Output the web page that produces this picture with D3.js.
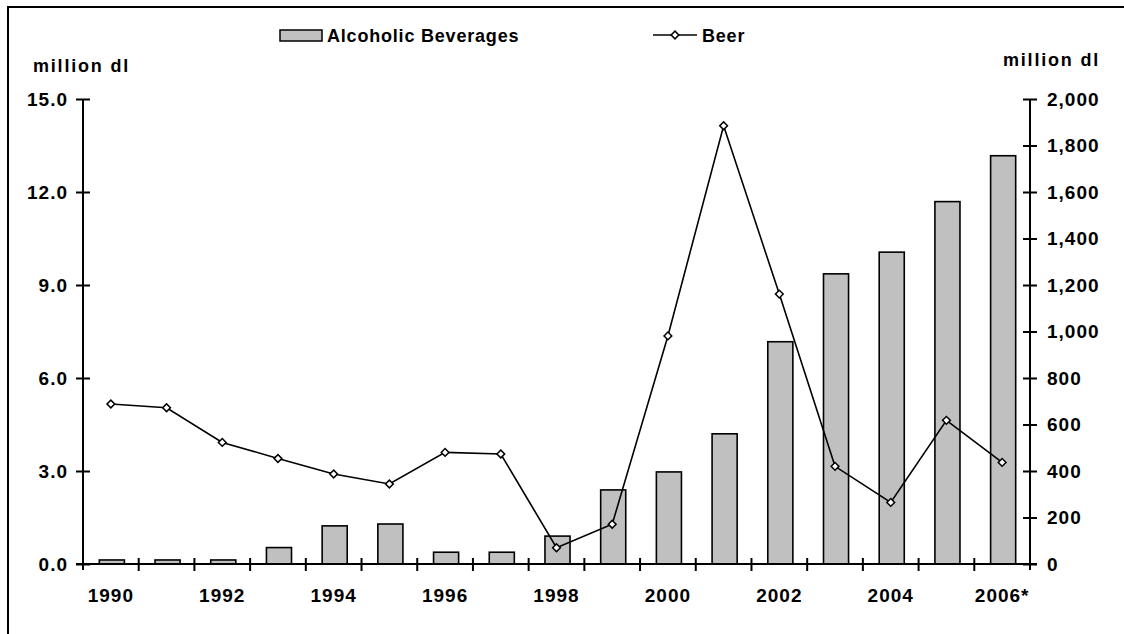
<!DOCTYPE html>
<html>
<head>
<meta charset="utf-8">
<script src="https://cdn.jsdelivr.net/npm/d3@7"></script>
<style>
  body { margin: 0; background: #fff; }
  text { font-family: "Liberation Sans", Arial, sans-serif; font-weight: bold; fill: #000; }
</style>
</head>
<body>
<div id="chart-area"></div>
<script>
// Data
var years = ["1990","1991","1992","1993","1994","1995","1996","1997","1998","1999","2000","2001","2002","2003","2004","2005","2006*"];
var beverages = [0.13,0.13,0.13,0.53,1.23,1.29,0.38,0.38,0.9,2.39,2.97,4.2,7.17,9.36,10.06,11.69,13.17];
var beer = [688,672,523,454,387,344,480,473,70,171,981,1885,1161,420,265,618,437];
var leftTicks = [0,3,6,9,12,15];
var rightTicks = [0,200,400,600,800,1000,1200,1400,1600,1800,2000];
var labelYears = ["1990","1992","1994","1996","1998","2000","2002","2004","2006*"];

var W = 1124, H = 634;
var plotLeft = 83, plotRight = 1030, plotTop = 99, plotBottom = 564;

var svg = d3.select("#chart-area")
    .append("svg")
        .attr("width", W)
        .attr("height", H)

// outer frame (runs off the right and bottom edge)
svg.append("rect")
    .attr("x", 8).attr("y", 7)
    .attr("width", 1130).attr("height", 640)
    .attr("fill", "none").attr("stroke", "#000").attr("stroke-width", 2)

// Scales
var x = d3.scaleBand().domain(years).range([plotLeft, plotRight]).padding(0)
var yL = d3.scaleLinear().domain([0, 15]).range([plotBottom, plotTop])
var yR = d3.scaleLinear().domain([0, 2000]).range([plotBottom, plotTop])

// Bars
var bw = x.bandwidth() * 0.45
svg.selectAll("rect.bar")
    .data(beverages)
    .enter()
    .append("rect")
        .attr("class", "bar")
        .attr("x", (d, i) => x(years[i]) + x.bandwidth() / 2 - bw / 2 + 1)
        .attr("y", d => yL(d))
        .attr("width", bw)
        .attr("height", d => plotBottom - yL(d))
        .attr("fill", "#c0c0c0")
        .attr("stroke", "#000")
        .attr("stroke-width", 1.6)

// Axes
var leftAxis = svg.append("g")
    .attr("transform", "translate(" + plotLeft + ",0)")
    .call(d3.axisLeft(yL).tickValues(leftTicks).tickFormat(d3.format(".1f")).tickSize(7).tickPadding(8))
var rightAxis = svg.append("g")
    .attr("transform", "translate(" + plotRight + ",0)")
    .call(d3.axisRight(yR).tickValues(rightTicks).tickFormat(d3.format(",")).tickSize(7).tickPadding(10))
var xAxis = svg.append("g")
    .attr("transform", "translate(0," + plotBottom + ")")
    .call(d3.axisBottom(x).tickFormat(d => labelYears.includes(d) ? d : "").tickSize(0).tickPadding(0))

;[leftAxis, rightAxis].forEach(g => {
    g.select(".domain").remove()
    g.selectAll(".tick line").attr("x1", -7).attr("x2", 7).attr("stroke-width", 2)
})
svg.append("line").attr("x1", plotLeft).attr("x2", plotLeft).attr("y1", plotTop).attr("y2", plotBottom + 6)
    .attr("stroke", "#000").attr("stroke-width", 2)
svg.append("line").attr("x1", plotRight).attr("x2", plotRight).attr("y1", plotTop).attr("y2", plotBottom + 6)
    .attr("stroke", "#000").attr("stroke-width", 2)

xAxis.select(".domain").remove()
svg.append("line").attr("x1", plotLeft - 7).attr("x2", plotRight + 7).attr("y1", plotBottom).attr("y2", plotBottom)
    .attr("stroke", "#000").attr("stroke-width", 2)
// category separators crossing the axis
svg.selectAll("line.sep")
    .data(years.slice(1))
    .enter()
    .append("line")
        .attr("class", "sep")
        .attr("x1", d => x(d)).attr("x2", d => x(d))
        .attr("y1", plotBottom - 6).attr("y2", plotBottom + 7)
        .attr("stroke", "#000").attr("stroke-width", 2)

svg.selectAll(".tick text")
    .attr("font-size", "19px")
    .attr("letter-spacing", "1px")
    .attr("font-family", "Liberation Sans, Arial, sans-serif")
    .attr("font-weight", "bold")
    .attr("fill", "#000")
xAxis.selectAll(".tick text").attr("dy", "0").attr("y", 38)

// Beer line
var line = d3.line()
    .x((d, i) => x(years[i]) + x.bandwidth() / 2)
    .y(d => yR(d))
svg.append("path")
    .datum(beer)
    .attr("d", line)
    .attr("fill", "none")
    .attr("stroke", "#000")
    .attr("stroke-width", 1.6)

var diamond = d3.symbol(d3.symbolSquare, 30)
svg.selectAll("path.mark")
    .data(beer)
    .enter()
    .append("path")
        .attr("class", "mark")
        .attr("d", diamond)
        .attr("transform", (d, i) => "translate(" + (x(years[i]) + x.bandwidth() / 2) + "," + yR(d) + ") rotate(45)")
        .attr("fill", "#fff")
        .attr("stroke", "#000")
        .attr("stroke-width", 1.5)

// Axis titles
svg.append("text").attr("x", 33).attr("y", 72)
    .attr("font-size", "18px").attr("letter-spacing", "1.8px").text("million dl")
svg.append("text").attr("x", 1003).attr("y", 66)
    .attr("font-size", "18px").attr("letter-spacing", "1.8px").text("million dl")

// Legend
svg.append("rect").attr("x", 280).attr("y", 30).attr("width", 42).attr("height", 11)
    .attr("fill", "#c0c0c0").attr("stroke", "#000").attr("stroke-width", 1.5)
svg.append("text").attr("x", 327).attr("y", 42)
    .attr("font-size", "18px").attr("letter-spacing", "0.8px").text("Alcoholic Beverages")
svg.append("line").attr("x1", 653).attr("x2", 697).attr("y1", 35).attr("y2", 35)
    .attr("stroke", "#000").attr("stroke-width", 1.6)
svg.append("path").attr("d", diamond)
    .attr("transform", "translate(675,35) rotate(45)")
    .attr("fill", "#fff").attr("stroke", "#000").attr("stroke-width", 1.5)
svg.append("text").attr("x", 702).attr("y", 42)
    .attr("font-size", "18px").attr("letter-spacing", "0.8px").text("Beer")
</script>
</body>
</html>
